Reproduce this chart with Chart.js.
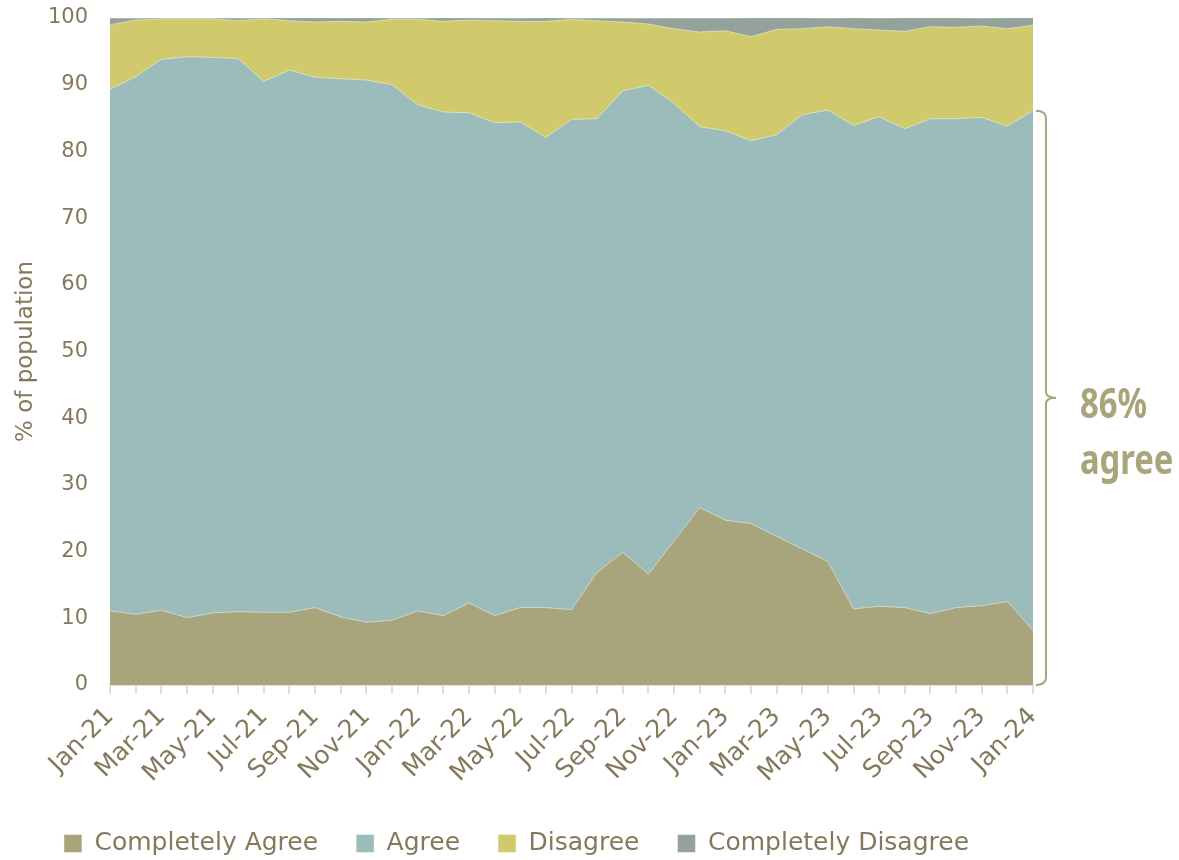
<!DOCTYPE html>
<html>
<head>
<meta charset="utf-8">
<script src="https://cdn.jsdelivr.net/npm/chart.js@4"></script>
<style>
  html, body { margin: 0; padding: 0; background: #fff; }
  #wrap { width: 1179px; height: 860px; }
</style>
</head>
<body>
<div id="wrap"><canvas id="chart"></canvas></div>
<script>
const months = [
  "Jan-21", "Feb-21", "Mar-21", "Apr-21", "May-21", "Jun-21", "Jul-21", "Aug-21", "Sep-21", "Oct-21", "Nov-21", "Dec-21",
  "Jan-22", "Feb-22", "Mar-22", "Apr-22", "May-22", "Jun-22", "Jul-22", "Aug-22", "Sep-22", "Oct-22", "Nov-22", "Dec-22",
  "Jan-23", "Feb-23", "Mar-23", "Apr-23", "May-23", "Jun-23", "Jul-23", "Aug-23", "Sep-23", "Oct-23", "Nov-23", "Dec-23",
  "Jan-24"
];

// % of population, per month
const completelyAgree = [
  11.1, 10.6, 11.2, 10.1, 10.8, 11.0, 10.9, 10.9, 11.6, 10.2, 9.4, 9.7,
  11.1, 10.4, 12.3, 10.4, 11.6, 11.6, 11.3, 16.9, 19.9, 16.6, 21.6, 26.6,
  24.7, 24.2, 22.3, 20.4, 18.5, 11.4, 11.8, 11.6, 10.7, 11.6, 11.9, 12.5,
  8.2
];
const agree = [
  78.2, 80.6, 82.6, 84.1, 83.3, 82.9, 79.6, 81.3, 79.5, 80.7, 81.3, 80.3,
  75.9, 75.5, 73.5, 73.9, 72.8, 70.5, 73.5, 68.0, 69.2, 73.3, 65.6, 57.1,
  58.4, 57.4, 60.2, 65.1, 67.7, 72.5, 73.4, 71.8, 74.2, 73.3, 73.2, 71.3,
  77.9
];
const disagree = [
  9.7, 8.5, 6.1, 5.7, 5.8, 5.7, 9.4, 7.4, 8.3, 8.6, 8.7, 9.8,
  12.8, 13.6, 13.9, 15.3, 15.1, 17.4, 15.0, 14.7, 10.3, 9.2, 11.2, 14.2,
  15.0, 15.6, 15.8, 12.9, 12.5, 14.5, 13.0, 14.6, 13.8, 13.7, 13.7, 14.6,
  12.8
];
const completelyDisagree = [
  1.0, 0.3, 0.15, 0.15, 0.15, 0.4, 0.15, 0.45, 0.65, 0.55, 0.65, 0.2,
  0.2, 0.55, 0.35, 0.4, 0.5, 0.55, 0.2, 0.4, 0.6, 0.9, 1.6, 2.1,
  1.9, 2.85, 1.75, 1.65, 1.3, 1.65, 1.8, 2.05, 1.35, 1.45, 1.2, 1.65,
  1.15
];

const textColor = "#84795c";
const fontFam = "'DejaVu Sans', 'Noto Sans', sans-serif";

function series(label, data, color) {
  return {
    label: label,
    data: data,
    backgroundColor: color,
    borderColor: "rgba(255,255,240,0.6)",
    borderWidth: 0.8,
    fill: true,
    pointRadius: 0,
    tension: 0,
  };
}

// bracket + "86% agree" next to the last month
const lastIdx = months.length - 1;
const agreeNow = Math.round(completelyAgree[lastIdx] + agree[lastIdx]);
const bracePlugin = {
  id: "brace",
  afterDraw(chart) {
    const ctx = chart.ctx;
    const y = chart.scales.y;
    const left = chart.chartArea.right + 3;
    const top = y.getPixelForValue(completelyAgree[lastIdx] + agree[lastIdx]);
    const bot = y.getPixelForValue(0);
    const mid = (top + bot) / 2;
    const bx = left + 10;
    ctx.save();
    ctx.strokeStyle = "#a8a47c";
    ctx.lineWidth = 2;
    ctx.beginPath();
    ctx.moveTo(left, top);
    ctx.quadraticCurveTo(bx, top, bx, top + 8);
    ctx.lineTo(bx, mid - 6);
    ctx.quadraticCurveTo(bx, mid, bx + 10, mid);
    ctx.quadraticCurveTo(bx, mid, bx, mid + 6);
    ctx.lineTo(bx, bot - 8);
    ctx.quadraticCurveTo(bx, bot, left, bot);
    ctx.stroke();
    // condensed bold look
    ctx.fillStyle = "#a8a47c";
    ctx.font = "bold 42px 'Noto Sans', 'DejaVu Sans', sans-serif";
    ctx.textBaseline = "alphabetic";
    ctx.translate(bx + 34, 0);
    ctx.scale(0.78, 1);
    ctx.fillText(agreeNow + "%", 0, mid + 20);
    ctx.fillText("agree", 0, mid + 76);
    ctx.restore();
  },
};

const ctx = document.getElementById("chart").getContext("2d");
const chart = new Chart(ctx, {
  type: "line",
  data: {
    labels: months,
    datasets: [
      series("Completely Agree", completelyAgree, "#a8a47c"),
      series("Agree", agree, "#9bbcbb"),
      series("Disagree", disagree, "#d1ca6d"),
      series("Completely Disagree", completelyDisagree, "#93a39b"),
    ],
  },
  options: {
    responsive: true,
    maintainAspectRatio: false,
    animation: false,
    layout: { padding: { left: 0, right: 146, top: 18, bottom: -6 } },
    plugins: {
      tooltip: { enabled: false },
      legend: {
        position: "bottom",
        labels: {
          color: textColor,
          font: { family: fontFam, size: 25 },
          boxWidth: 18,
          boxHeight: 18,
          padding: 38,
        },
      },
    },
    scales: {
      x: {
        stacked: true,
        offset: false,
        grid: {
          display: true,
          drawOnChartArea: false,
          drawTicks: true,
          tickLength: 9,
          color: "#e4e0d6",
          lineWidth: 2,
        },
        border: { color: "#e4e0d6", width: 2 },
        ticks: {
          autoSkip: false,
          maxRotation: 45,
          minRotation: 45,
          color: textColor,
          font: { family: fontFam, size: 25 },
          padding: 8,
          callback: function (value, index) {
            return index % 2 === 0 ? this.getLabelForValue(value) : "";
          },
        },
        afterFit: function (scale) {
          scale.height = 108;
        },
      },
      y: {
        stacked: true,
        min: 0,
        max: 100,
        grid: { display: false },
        border: { color: "#ece9e2", width: 1 },
        ticks: {
          stepSize: 10,
          color: textColor,
          font: { family: fontFam, size: 21 },
          padding: 14,
        },
        title: {
          display: true,
          text: "% of population",
          color: textColor,
          font: { family: fontFam, size: 23 },
          padding: { top: 12, bottom: 0 },
        },
        afterFit: function (scale) {
          scale.width = 110;
          scale.paddingTop = 0;
          scale.paddingBottom = 0;
        },
      },
    },
  },
  plugins: [bracePlugin],
});
</script>
</body>
</html>
